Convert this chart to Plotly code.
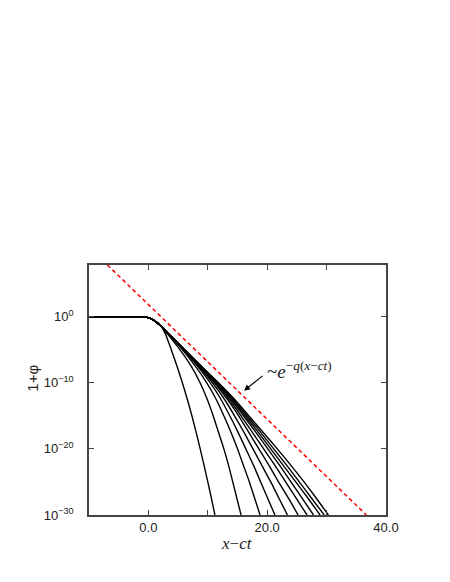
import plotly.graph_objects as go

# shared plateau / knee of all profiles: x-ct and log10(1+phi)
head_x = [-10, -3, -2, -1, -0.5, 0, 0.5, 1, 1.5, 2]
head_log = [0, 0, -0.005, -0.03, -0.08, -0.18, -0.36, -0.62, -0.95, -1.32]

# decay part: x-ct position where each profile reaches these log10 levels
levels = [-2.5, -5, -7.5, -10, -12.5, -15, -17.5, -20, -22.5, -25, -27.5, -30]
tails = [
    [2.8, 3.85, 4.82, 5.72, 6.55, 7.32, 8.04, 8.72, 9.37, 10.0, 10.61, 11.2],
    [3.1, 5.3, 7.2, 8.7, 9.9, 10.9, 11.8, 12.7, 13.5, 14.2, 14.9, 15.6],
    [3.2, 5.7, 7.9, 9.8, 11.4, 12.7, 13.9, 15.0, 16.0, 17.0, 17.9, 18.8],
    [3.2, 5.9, 8.3, 10.4, 12.2, 13.7, 15.1, 16.4, 17.7, 18.9, 20.1, 21.3],
    [3.3, 6.0, 8.5, 10.8, 12.8, 14.5, 16.1, 17.6, 19.1, 20.6, 22.0, 23.4],
    [3.3, 6.0, 8.6, 11.1, 13.3, 15.2, 16.9, 18.6, 20.3, 21.9, 23.6, 25.2],
    [3.3, 6.0, 8.7, 11.3, 13.6, 15.6, 17.5, 19.4, 21.3, 23.1, 24.9, 26.7],
    [3.3, 6.1, 8.8, 11.5, 13.9, 16.0, 18.1, 20.1, 22.1, 24.0, 25.9, 27.8],
    [3.3, 6.1, 8.9, 11.6, 14.1, 16.3, 18.5, 20.6, 22.7, 24.8, 26.9, 28.9],
    [3.3, 6.1, 8.9, 11.7, 14.3, 16.6, 18.9, 21.1, 23.3, 25.4, 27.5, 29.6],
    [3.3, 6.1, 8.9, 11.8, 14.5, 16.9, 19.3, 21.7, 24.0, 26.2, 28.3, 30.3],
]

# asymptote ~exp(-q(x-ct)), end points
red_x = [-6.9, 36.7]
red_log = [7.8, -30.0]

fig = go.Figure()
for t in tails:
    xs = head_x + t
    ys = [10 ** v for v in head_log + levels]
    fig.add_trace(go.Scatter(x=xs, y=ys, mode='lines',
                             line=dict(color='black', width=1.4, shape='spline', smoothing=0.6),
                             showlegend=False, hoverinfo='skip'))

fig.add_trace(go.Scatter(x=red_x, y=[10 ** v for v in red_log], mode='lines',
                         line=dict(color='#ff0000', width=1.5, dash='4px,3px'),
                         showlegend=False, hoverinfo='skip'))

axis_col = '#444444'
fig.update_layout(
    width=450, height=582,
    margin=dict(l=81, r=72, t=257, b=75),
    plot_bgcolor='white', paper_bgcolor='white',
    font=dict(family='Liberation Sans, Arial', size=13, color='#222222'),
    xaxis=dict(range=[-10, 40], tickvals=[0, 20, 40], ticktext=['0.0', '20.0', '40.0'],
               ticks='inside', ticklen=5, tickcolor=axis_col, tickwidth=1,
               minor=dict(tickvals=[10, 30], ticks='inside', ticklen=5, tickcolor=axis_col),
               showline=True, linecolor=axis_col, linewidth=1.5, mirror='ticks',
               showgrid=False, zeroline=False),
    yaxis=dict(type='log', range=[-30, 7.8], tickvals=[1, 1e-10, 1e-20, 1e-30],
               ticktext=['10<sup>0</sup>', '10<sup>−10</sup>', '10<sup>−20</sup>', '10<sup>−30</sup>'],
               ticks='inside', ticklen=5, tickcolor=axis_col, tickwidth=1,
               ticklabelstandoff=11,
               showline=True, linecolor=axis_col, linewidth=1.5, mirror='ticks',
               showgrid=False, zeroline=False),
)

fig.add_annotation(text='1+φ', xref='paper', yref='paper', x=-0.193, y=0.548,
                   xanchor='center', yanchor='middle',
                   textangle=-90, showarrow=False, font=dict(size=15, color='#222222'))
fig.add_annotation(text='<i>x</i>−<i>ct</i>', xref='paper', yref='paper', x=0.498, y=-0.112,
                   xanchor='center', yanchor='middle',
                   showarrow=False, font=dict(family='Liberation Serif', size=17, color='#222222'))

# arrow to the asymptote and its label
fig.add_annotation(x=16.1, y=-11.2, xref='x', yref='y', text='', showarrow=True,
                   ax=20, ay=-16, arrowhead=2, arrowsize=1, arrowwidth=1.2, arrowcolor='black')
fig.add_annotation(x=19.6, y=-8.1, xref='x', yref='y', xanchor='left', yanchor='middle',
                   text='~<i>e</i><sup>−<i>q</i>(<i>x</i>−<i>ct</i>)</sup>', showarrow=False,
                   font=dict(family='Liberation Serif', size=19, color='#222222'))

fig.write_html('out.html')
